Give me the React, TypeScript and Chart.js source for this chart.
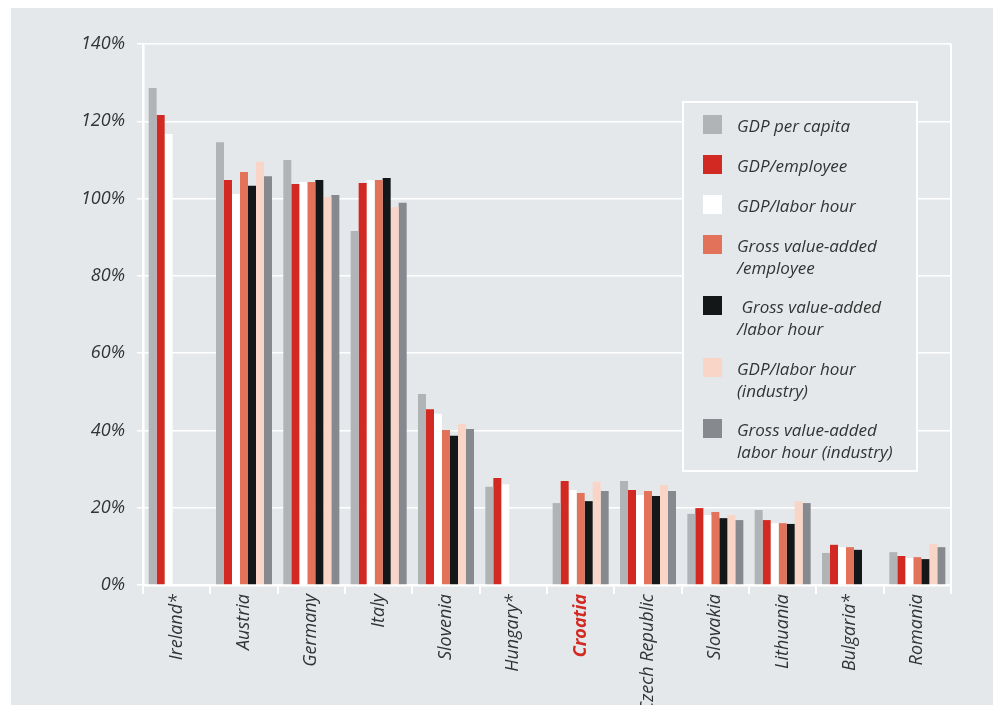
import React, { useEffect, useRef } from "react";
import { Chart, registerables } from "chart.js";

Chart.register(...registerables);

// Productivity indicators relative to the EU average (%), by country
const countries = [
  "Ireland*", "Austria", "Germany", "Italy", "Slovenia", "Hungary*",
  "Croatia", "Czech Republic", "Slovakia", "Lithuania", "Bulgaria*", "Romania",
];

const gdpPerCapita = [128.6, 114.6, 110.0, 91.6, 49.4, 25.4, 21.2, 26.9, 18.4, 19.4, 8.3, 8.5];
const gdpPerEmployee = [121.6, 104.8, 103.8, 104.0, 45.5, 27.7, 26.9, 24.6, 19.9, 16.8, 10.4, 7.5];
const gdpPerLaborHour = [116.7, 101.2, 104.3, 104.8, 44.3, 26.1, 24.6, 23.3, 18.1, 16.0, 9.8, 7.0];
const gvaPerEmployee = [null, 106.9, 104.3, 104.8, 40.1, null, 23.8, 24.3, 18.9, 16.0, 9.8, 7.2];
const gvaPerLaborHour = [null, 103.3, 104.8, 105.3, 38.6, null, 21.7, 23.0, 17.3, 15.8, 9.1, 6.7];
const gdpPerLaborHourIndustry = [null, 109.5, 100.4, 97.8, 41.7, null, 26.7, 25.9, 18.1, 21.7, null, 10.6];
const gvaPerLaborHourIndustry = [null, 105.8, 100.9, 98.9, 40.4, null, 24.3, 24.3, 16.8, 21.2, null, 9.8];

const yTicks = [0, 20, 40, 60, 80, 100, 120, 140];

const highlighted = "Croatia";

const seriesDefs = [
  { label: ["GDP per capita"], data: gdpPerCapita, color: "#b1b4b7" },
  { label: ["GDP/employee"], data: gdpPerEmployee, color: "#d22a22" },
  { label: ["GDP/labor hour"], data: gdpPerLaborHour, color: "#ffffff" },
  { label: ["Gross value-added", "/employee"], data: gvaPerEmployee, color: "#e27259" },
  { label: [" Gross value-added", "/labor hour"], data: gvaPerLaborHour, color: "#131718" },
  { label: ["GDP/labor hour", "(industry)"], data: gdpPerLaborHourIndustry, color: "#f9d5c8" },
  { label: ["Gross value-added", "labor hour (industry)"], data: gvaPerLaborHourIndustry, color: "#868a8e" },
];

const FONT = "'Open Sans', 'Noto Sans', sans-serif";
const FONT_SIZE = 18;
const TEXT = "#333333";
const PANEL = "#e4e8eb";

// Page backdrop, right frame line and the boxed legend
const decorPlugin = {
  id: "decor",
  beforeDraw(chart: any) {
    const { ctx, width, height } = chart;
    ctx.save();
    ctx.fillStyle = "#ffffff";
    ctx.fillRect(0, 0, width, height);
    ctx.fillStyle = PANEL;
    ctx.fillRect(11, 8, width - 11, height - 8);
    ctx.fillStyle = "#8a8d90";
    ctx.fillRect(994, 0, 1, 6);
    ctx.restore();
  },
  afterDraw(chart: any) {
    const { ctx, chartArea } = chart;
    ctx.save();
    // right frame
    ctx.strokeStyle = "#ffffff";
    ctx.lineWidth = 2;
    ctx.beginPath();
    ctx.moveTo(chartArea.right, chartArea.top);
    ctx.lineTo(chartArea.right, chartArea.bottom);
    ctx.stroke();

    // legend box
    const bx = 683, by = 102, bw = 234, bh = 369;
    ctx.fillStyle = PANEL;
    ctx.fillRect(bx, by, bw, bh);
    ctx.strokeStyle = "#ffffff";
    ctx.lineWidth = 2;
    ctx.strokeRect(bx, by, bw, bh);

    const swatchTops = [115, 155, 195, 235, 296, 358, 419];
    ctx.font = `italic ${FONT_SIZE - 1}px ${FONT}`;
    ctx.textBaseline = "alphabetic";
    ctx.textAlign = "left";
    seriesDefs.forEach((s, i) => {
      const top = swatchTops[i];
      ctx.fillStyle = s.color;
      ctx.fillRect(703, top, 19, 19);
      ctx.fillStyle = TEXT;
      s.label.forEach((line, j) => {
        ctx.fillText(line, 737, top + 17 + j * 21.5);
      });
    });
    ctx.restore();
  },
};

export default function App() {
  const canvasRef = useRef<HTMLCanvasElement | null>(null);

  useEffect(() => {
    const canvas = canvasRef.current;
    if (!canvas) return;
    const chart = new Chart(canvas, {
      type: "bar",
      data: {
        labels: countries,
        datasets: seriesDefs.map((s) => ({
          label: s.label.join(" "),
          data: s.data as (number | null)[],
          backgroundColor: s.color,
          borderWidth: 0,
          barPercentage: 1,
          categoryPercentage: 0.832,
        })),
      },
      options: {
        responsive: false,
        animation: false,
        devicePixelRatio: 1,
        layout: { padding: { left: 0, right: 50, top: 44, bottom: 0 } },
        plugins: {
          legend: { display: false },
          tooltip: { enabled: false },
        },
        scales: {
          x: {
            grid: {
              display: true,
              drawOnChartArea: false,
              drawTicks: true,
              tickLength: 9,
              tickColor: "#ffffff",
              color: "#ffffff",
              lineWidth: 2,
              offset: true,
            },
            border: { display: true, color: "#ffffff", width: 2.5 },
            ticks: {
              autoSkip: false,
              minRotation: 90,
              maxRotation: 90,
              padding: 0,
              color: (ctx: any) =>
                countries[ctx.index] === highlighted ? "#d22a22" : TEXT,
              font: (ctx: any) => ({
                family: FONT,
                size: FONT_SIZE,
                style: "italic",
                weight: countries[ctx.index] === highlighted ? "bold" : "normal",
              }),
            },
            afterFit(scale: any) {
              scale.height = 128;
            },
          },
          y: {
            min: 0,
            max: 140,
            afterBuildTicks(scale: any) {
              scale.ticks = yTicks.map((v) => ({ value: v }));
            },
            grid: {
              color: "#ffffff",
              lineWidth: 1.5,
              tickLength: 6,
              tickColor: "#ffffff",
            },
            border: { display: true, color: "#ffffff", width: 2.5 },
            ticks: {
              padding: 12,
              color: TEXT,
              font: { family: FONT, size: FONT_SIZE, style: "italic" },
              callback: (v: any) => `${v}%`,
            },
            afterFit(scale: any) {
              scale.width = 143;
            },
          },
        },
      },
      plugins: [decorPlugin],
    });
    return () => chart.destroy();
  }, []);

  return (
    <div style={{ position: "relative", width: 1001, height: 713, margin: -8, overflow: "hidden" }}>
      <canvas ref={canvasRef} width={1001} height={713} style={{ display: "block" }} />
    </div>
  );
}
